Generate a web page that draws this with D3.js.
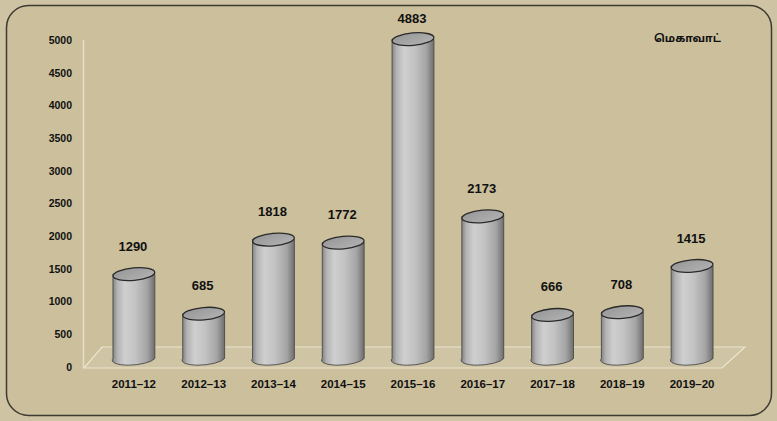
<!DOCTYPE html>
<html>
<head>
<meta charset="utf-8">
<script src="https://cdn.jsdelivr.net/npm/d3@7/dist/d3.min.js"></script>
<style>
  html, body { margin: 0; padding: 0; background: #cdc19f; }
  svg { display: block; }
  text { font-family: "Liberation Sans Narrow", "Arial Narrow", "Liberation Sans", Arial, sans-serif; font-weight: bold; fill: #111; }
</style>
</head>
<body>
<div id="chart"></div>
<script>
// Installed capacity additions per year (MW)
const years = ["2011–12", "2012–13", "2013–14", "2014–15", "2015–16", "2016–17", "2017–18", "2018–19", "2019–20"];
const capacity = [1290, 685, 1818, 1772, 4883, 2173, 666, 708, 1415];
const yTicks = [0, 500, 1000, 1500, 2000, 2500, 3000, 3500, 4000, 4500, 5000];
const unitLabel = "மெகாவாட்";

const W = 777, H = 421;
const svg = d3.select("#chart").append("svg").attr("width", W).attr("height", H);

// Outer rounded frame
svg.append("rect").attr("x", 0).attr("y", 0).attr("width", W).attr("height", H).attr("fill", "#cec3a2");
svg.append("rect")
  .attr("x", 6.5).attr("y", 5.5).attr("width", 765).attr("height", 410)
  .attr("rx", 22).attr("ry", 22)
  .attr("fill", "#cbbf9c").attr("stroke", "#3d3a33").attr("stroke-width", 1.5);

// Scales: axis on the front plane, cylinders set back into the floor depth
const yAxisScale = d3.scaleLinear().domain([0, 5000]).range([367, 40]);
const depthShift = 8.5;
const yBar = v => yAxisScale(v) - depthShift;
const x = d3.scaleBand().domain(years).range([99, 727]).paddingInner(0.4).paddingOuter(0.2);

// Floor (3D base plane)
const floor = [[84, 368], [722, 368], [745, 347], [102, 347]];
svg.append("path")
  .attr("d", d3.line()(floor) + "Z")
  .attr("fill", "#cfc4a3").attr("stroke", "#ece6cf").attr("stroke-width", 1.2);

// Value axis line
svg.append("line").attr("x1", 83.5).attr("x2", 83.5).attr("y1", 40).attr("y2", 368)
  .attr("stroke", "#e6dfc6").attr("stroke-width", 1.5);

// Y tick labels
const yAxis = d3.axisLeft(yAxisScale).tickValues(yTicks).tickSize(0).tickPadding(11).tickFormat(d3.format("d"));
const gy = svg.append("g").attr("transform", "translate(83,0)").call(yAxis);
gy.select(".domain").remove();
gy.selectAll("text").style("font-size", "10.5px").style("font-family", null).attr("fill", "#111");

// X category labels
const xAxis = d3.axisBottom(x).tickSize(0).tickPadding(0);
const gx = svg.append("g").attr("transform", "translate(0,380)").call(xAxis);
gx.select(".domain").remove();
gx.selectAll("text").style("font-size", "11.5px").style("font-family", null).attr("fill", "#111").attr("dy", "0.71em");

// Cylinder shading
const defs = svg.append("defs");
const body = defs.append("linearGradient").attr("id", "cylBody").attr("x1", "0").attr("x2", "1").attr("y1", "0").attr("y2", "0");
[["0%", "#7d7d7d"], ["12%", "#b3b3b3"], ["30%", "#cfcfcf"], ["55%", "#c2c2c2"], ["82%", "#a4a4a4"], ["100%", "#6e6e6e"]]
  .forEach(([o, c]) => body.append("stop").attr("offset", o).attr("stop-color", c));
const cap = defs.append("linearGradient").attr("id", "cylTop").attr("x1", "0").attr("x2", "1").attr("y1", "0").attr("y2", "1");
[["0%", "#959595"], ["100%", "#b4b4b4"]].forEach(([o, c]) => cap.append("stop").attr("offset", o).attr("stop-color", c));

const rx = x.bandwidth() / 2, ry = 6.2, tilt = -5;
const data = years.map((y, i) => ({ year: y, value: capacity[i] }));

const cyl = svg.append("g").selectAll("g").data(data).join("g")
  .attr("transform", d => `translate(${x(d.year) + rx},0)`);

// Body: side walls joined by the lower half of the base ellipse
cyl.append("path")
  .attr("d", d => {
    const t = yBar(d.value), b = yBar(0);
    return `M${-rx},${t} L${-rx},${b} A${rx},${ry} ${tilt} 0 0 ${rx},${b} L${rx},${t} Z`;
  })
  .attr("fill", "url(#cylBody)").attr("stroke", "#4a4a4a").attr("stroke-width", 0.9);

// Top cap
cyl.append("ellipse")
  .attr("cx", 0).attr("cy", d => yBar(d.value))
  .attr("rx", rx).attr("ry", ry)
  .attr("transform", d => `rotate(${tilt},0,${yBar(d.value)})`)
  .attr("fill", "url(#cylTop)").attr("stroke", "#2a2a2a").attr("stroke-width", 1.3);

// Value labels (kept inside the frame at the top)
const labelOffset = 28;
svg.append("g").selectAll("text").data(data).join("text")
  .attr("x", d => x(d.year) + rx - 1)
  .attr("y", d => Math.max(yBar(d.value) - labelOffset, 18))
  .attr("text-anchor", "middle").attr("dy", "0.35em")
  .style("font-size", "13px")
  .text(d => d.value);

// Unit label
svg.append("text").attr("x", 654).attr("y", 42)
  .style("font-family", "'Noto Sans Tamil', 'Noto Sans', sans-serif")
  .style("font-size", "11px").text(unitLabel);
</script>
</body>
</html>
